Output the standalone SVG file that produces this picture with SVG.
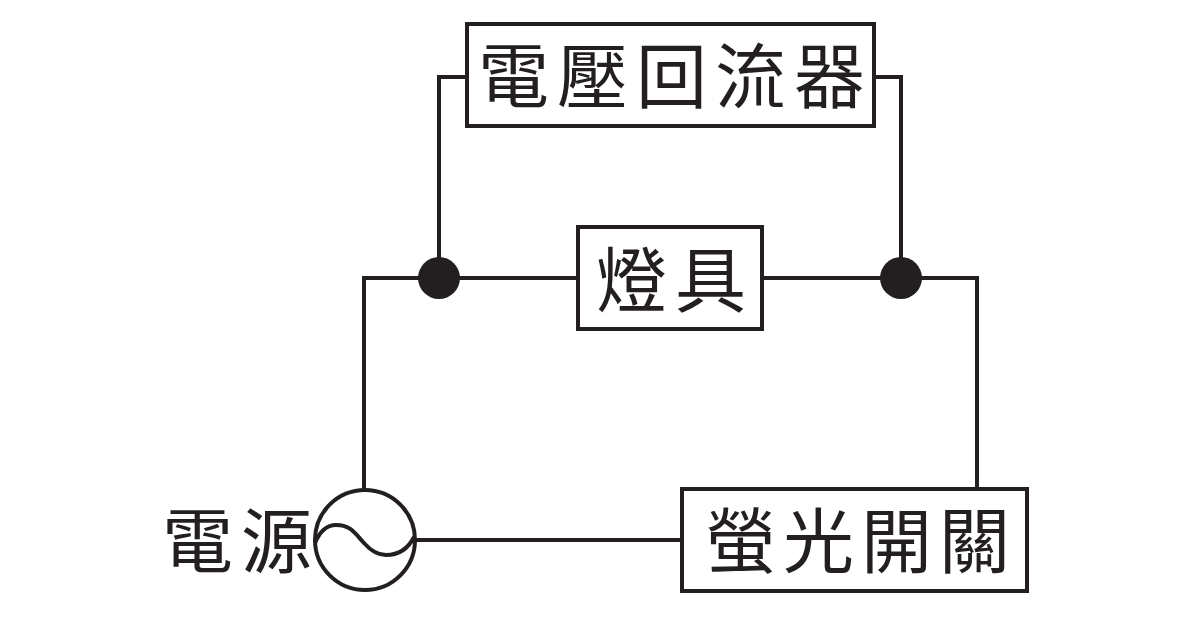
<svg xmlns="http://www.w3.org/2000/svg" width="1200" height="626" viewBox="0 0 1200 626">
<style>
.box{fill:#fff;stroke:#231f20;stroke-width:4}
.wire{fill:none;stroke:#231f20;stroke-width:4}
.dot{fill:#231f20}
text{font-family:"Noto Sans CJK TC","Noto Sans CJK SC",sans-serif;font-weight:400;fill:#231f20;font-size:71px}
</style>
<rect width="1200" height="626" fill="#fff"/>
<g id="connectors">
<path class="wire" d="M467 77H439V278"/>
<path class="wire" d="M874 77H901V278"/>
<path class="wire" d="M578 278H364V490"/>
<path class="wire" d="M762 278H977V489"/>
<path class="wire" d="M415 540H682"/>
</g>
<g id="node-ballast"><rect class="box" x="467" y="24" width="407" height="102"/><text x="478" y="102" letter-spacing="8">電壓回流器</text></g>
<g id="node-lamp"><rect class="box" x="578" y="227" width="184" height="102"/><text x="596" y="306" letter-spacing="8">燈具</text></g>
<g id="node-starter"><rect class="box" x="682" y="489" width="345" height="102"/><text x="705" y="567" letter-spacing="7">螢光開關</text></g>
<g id="junction-left"><circle class="dot" cx="439" cy="278" r="21"/></g>
<g id="junction-right"><circle class="dot" cx="901" cy="278" r="21"/></g>
<g id="node-source"><text x="162" y="567" letter-spacing="8">電源</text><circle class="wire" cx="365" cy="540" r="50"/><path class="wire" d="M315 543C320 531 327 525 336 525C350 525 354 532 364 543C371 551 378 555 386 555C398 555 408 549 414 537"/></g>
</svg>
